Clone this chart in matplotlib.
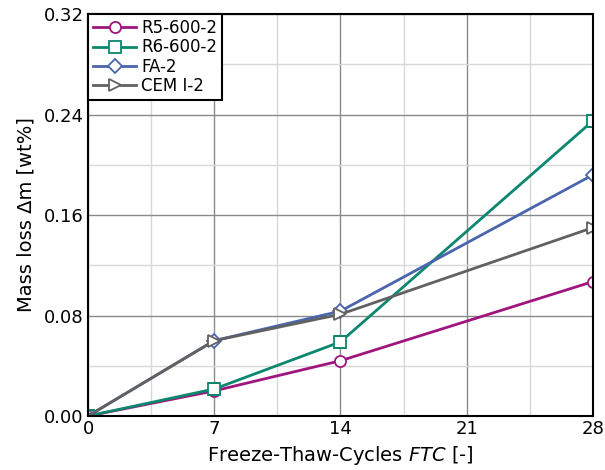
import numpy as np
import matplotlib
matplotlib.use("Agg")
import matplotlib.pyplot as plt
from matplotlib.patches import Polygon

# data
ftc = [0, 7, 14, 28]
r5_600_2 = [0.0, 0.020, 0.044, 0.107]
r6_600_2 = [0.0, 0.0215, 0.059, 0.235]
fa_2 = [0.0, 0.060, 0.0835, 0.192]
cem_i_2 = [0.0, 0.060, 0.081, 0.150]

series = [
    ("R5-600-2", r5_600_2, "#a0157d", "o"),
    ("R6-600-2", r6_600_2, "#0b8770", "s"),
    ("FA-2", fa_2, "#4a64ad", "D"),
    ("CEM I-2", cem_i_2, "#616161", ">"),
]

fig = plt.figure(figsize=(6.05, 4.7), dpi=100)
ax = fig.add_axes([0.1455, 0.1149, 0.8345, 0.8551])

# polygon clip path so that small markers get cut at the axes edge too
clip_poly = Polygon([[0, 0], [1, 0], [1, 1], [0, 1]], closed=True,
                    transform=ax.transAxes, visible=False)
ax.add_patch(clip_poly)

for name, vals, col, mk in series:
    ln, = ax.plot(ftc, vals, color=col, lw=2, marker=mk, markersize=8 if mk != "D" else 7,
                  markerfacecolor="white", markeredgecolor=col, markeredgewidth=1.3, label=name)
    ln.set_clip_path(clip_poly)

ax.set_xlim(0, 28)
ax.set_ylim(0, 0.32)
ax.set_xticks([0, 7, 14, 21, 28])
ax.set_yticks([0, 0.08, 0.16, 0.24, 0.32])
ax.set_xticks(np.arange(0, 28.1, 3.5), minor=True)
ax.set_yticks(np.arange(0, 0.321, 0.04), minor=True)
ax.set_yticklabels(["0.00", "0.08", "0.16", "0.24", "0.32"])
ax.grid(which="major", color="#8a8a8a", lw=1)
ax.grid(which="minor", color="#d8d8d8", lw=1)
ax.set_axisbelow(True)
ax.tick_params(which="both", length=0, labelsize=13, pad=3)
for s in ax.spines.values():
    s.set_linewidth(1.5)
    s.set_color("black")
    s.set_zorder(5)

ax.set_xlabel("Freeze-Thaw-Cycles $\\mathit{FTC}$ [-]", fontsize=14, labelpad=4)
ax.set_ylabel("Mass loss Δm [wt%]", fontsize=14, labelpad=6)

leg = ax.legend(loc="upper left", fontsize=12, frameon=True, fancybox=False,
                edgecolor="black", framealpha=1, borderaxespad=0.0,
                handlelength=2.6, handletextpad=0.3, labelspacing=0.08,
                borderpad=0.3)
leg.get_frame().set_linewidth(1.5)
leg.set_zorder(6)

fig.savefig("out.png", dpi=100)
